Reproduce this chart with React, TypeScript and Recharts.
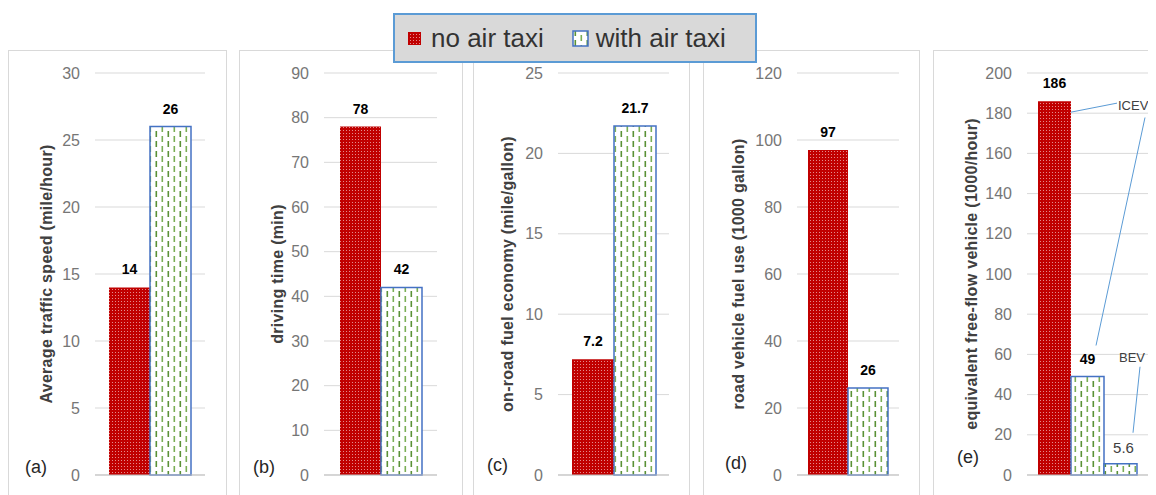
import React from "react";
import { BarChart, Bar, XAxis, YAxis, CartesianGrid, LabelList, Label } from "recharts";

// series names (legend)
const seriesNames = ["no air taxi", "with air taxi"];

// values
const speedValues = [14, 26];
const drivingTimeValues = [78, 42];
const fuelEconomyValues = [7.2, 21.7];
const fuelUseValues = [97, 26];
const freeFlowValues = [186, 49, 5.6]; // no air taxi, with air taxi (ICEV), with air taxi (BEV)
const freeFlowTags = ["ICEV", "BEV"];

const speedTicks = [0, 5, 10, 15, 20, 25, 30];
const timeTicks = [0, 10, 20, 30, 40, 50, 60, 70, 80, 90];
const economyTicks = [0, 5, 10, 15, 20, 25];
const fuelUseTicks = [0, 20, 40, 60, 80, 100, 120];
const freeFlowTicks = [0, 20, 40, 60, 80, 100, 120, 140, 160, 180, 200];

const axisTitles = [
  "Average traffic speed (mile/hour)",
  "driving time (min)",
  "on-road fuel economy (mile/gallon)",
  "road vehicle fuel use (1000 gallon)",
  "equivalent free-flow vehicle (1000/hour)",
];
const panelTags = ["(a)", "(b)", "(c)", "(d)", "(e)"];

const RED = "#c00000";
const BLUE = "#4472c4";
const GRID = "#d9d9d9";
const FONT = "'Liberation Sans', Arial, sans-serif";

// page-pixel layout of each panel
const layout = [
  { boxLeft: 8, boxRight: 227, plotLeft: 95, plotRight: 205, barSize: 41, titleX: 46, tagX: 25, tagY: 467 },
  { boxLeft: 239, boxRight: 463, plotLeft: 324, plotRight: 437, barSize: 41, titleX: 277, tagX: 253, tagY: 467 },
  { boxLeft: 473, boxRight: 690, plotLeft: 558, plotRight: 669, barSize: 42, titleX: 507, tagX: 487, tagY: 465 },
  { boxLeft: 703, boxRight: 920, plotLeft: 797, plotRight: 899, barSize: 40, titleX: 738, tagX: 725, tagY: 463 },
  { boxLeft: 933, boxRight: 1170, plotLeft: 1027, plotRight: 1148, barSize: 33, titleX: 971, tagX: 957, tagY: 457 },
];

const pairRow = (v: number[]) => [{ name: "", noTaxi: v[0], withTaxi: v[1] }];

const panels = [
  { data: pairRow(speedValues), ticks: speedTicks, keys: ["noTaxi", "withTaxi"] },
  { data: pairRow(drivingTimeValues), ticks: timeTicks, keys: ["noTaxi", "withTaxi"] },
  { data: pairRow(fuelEconomyValues), ticks: economyTicks, keys: ["noTaxi", "withTaxi"] },
  { data: pairRow(fuelUseValues), ticks: fuelUseTicks, keys: ["noTaxi", "withTaxi"] },
  {
    data: [{ name: "", noTaxi: freeFlowValues[0], icev: freeFlowValues[1], bev: freeFlowValues[2] }],
    ticks: freeFlowTicks,
    keys: ["noTaxi", "icev", "bev"],
  },
];

const ValueLabel = (props: any) => {
  const x = Number(props.x), y = Number(props.y), w = Number(props.width);
  return (
    <text x={x + w / 2} y={y - 13} textAnchor="middle" fontSize={14} fontWeight="bold" fill="#000">
      {props.value}
    </text>
  );
};

// panel (e) labels with leader lines
const FlowRedLabel = (props: any) => {
  const x = Number(props.x), y = Number(props.y), w = Number(props.width);
  return (
    <g>
      <ValueLabel {...props} />
      <line x1={x + w} y1={y + 11} x2={x + w + 46} y2={y + 2} stroke="#5b9bd5" strokeWidth={1} />
    </g>
  );
};

const FlowIcevLabel = (props: any) => {
  const x = Number(props.x), y = Number(props.y), w = Number(props.width);
  return (
    <g>
      <ValueLabel {...props} />
      <text x={x + w + 14} y={y - 267} fontSize={13} fill="#404040">{freeFlowTags[0]}</text>
      <line x1={x + 74} y1={y - 259} x2={x + 25} y2={y - 31} stroke="#5b9bd5" strokeWidth={1} />
    </g>
  );
};

const FlowBevLabel = (props: any) => {
  const x = Number(props.x), y = Number(props.y);
  return (
    <g>
      <text x={x + 19.5} y={y - 11} textAnchor="middle" fontSize={15} fill="#404040">{props.value}</text>
      <text x={x + 15} y={y - 102} fontSize={13} fill="#404040">{freeFlowTags[1]}</text>
      <line x1={x + 36} y1={y - 97} x2={x + 29} y2={y - 31} stroke="#5b9bd5" strokeWidth={1} />
    </g>
  );
};

const titleContent = (text: string, cx: number) => (props: any) => {
  const vb = props.viewBox || { y: 0, height: 0 };
  const cy = vb.y + vb.height / 2;
  return (
    <text
      x={cx}
      y={cy}
      transform={`rotate(-90, ${cx}, ${cy})`}
      textAnchor="middle"
      dominantBaseline="central"
      fontSize={16}
      fontWeight="bold"
      letterSpacing={0.3}
      fill="#404040"
    >
      {text}
    </text>
  );
};

const labelFor = (panelIdx: number, key: string) => {
  if (panelIdx === 4) {
    if (key === "noTaxi") return FlowRedLabel;
    if (key === "icev") return FlowIcevLabel;
    return FlowBevLabel;
  }
  return ValueLabel;
};

const Panel = ({ idx }: { idx: number }) => {
  const L = layout[idx];
  const P = panels[idx];
  const chartLeft = L.boxLeft + 1;
  const width = L.plotRight + 10 - chartLeft;
  const ticks = P.ticks;
  return (
    <>
      <div
        style={{
          position: "absolute",
          left: L.boxLeft - 8,
          top: 42,
          width: L.boxRight - L.boxLeft,
          height: 470,
          border: `1px solid ${GRID}`,
          boxSizing: "border-box",
        }}
      />
      <div style={{ position: "absolute", left: chartLeft - 8, top: 43 }}>
        <BarChart
          width={width}
          height={440}
          data={P.data}
          margin={{ top: 22, right: 10, bottom: 15, left: 0 }}
          barGap={0}
        >
          <CartesianGrid vertical={false} stroke={GRID} />
          <XAxis dataKey="name" tick={false} tickLine={false} height={1} axisLine={{ stroke: "#bfbfbf" }} />
          <YAxis
            width={L.plotLeft - chartLeft}
            domain={[0, ticks[ticks.length - 1]]}
            ticks={ticks}
            interval={0}
            axisLine={false}
            tickLine={false}
            tickSize={6}
            tickMargin={9}
            tick={{ fontSize: 16, fill: "#767676" }}
          >
            <Label content={titleContent(axisTitles[idx], L.titleX - chartLeft)} />
          </YAxis>
          {P.keys.map((k) => (
            <Bar
              key={k}
              dataKey={k}
              barSize={L.barSize}
              fill={k === "noTaxi" ? "url(#redDots)" : "url(#greenDash)"}
              stroke={k === "noTaxi" ? "none" : BLUE}
              strokeWidth={1.5}
              isAnimationActive={false}
            >
              <LabelList dataKey={k} content={labelFor(idx, k)} />
            </Bar>
          ))}
        </BarChart>
      </div>
      <span
        style={{
          position: "absolute",
          left: L.tagX - 8,
          top: L.tagY - 8 - 11,
          lineHeight: "22px",
          fontSize: 18,
          color: "#262626",
        }}
      >
        {panelTags[idx]}
      </span>
    </>
  );
};

const Swatch = ({ fill, stroke }: { fill: string; stroke?: string }) => (
  <svg width={17} height={17} style={{ display: "block" }}>
    <rect
      x={stroke ? 1 : 2}
      y={stroke ? 1 : 2}
      width={stroke ? 15 : 13}
      height={stroke ? 15 : 13}
      fill={fill}
      stroke={stroke || "none"}
      strokeWidth={1.5}
    />
  </svg>
);

const Legend = () => (
  <div
    style={{
      position: "absolute",
      left: 393 - 8,
      top: 13 - 8,
      width: 364,
      height: 50,
      background: "#d9d9d9",
      border: "2px solid #5b9bd5",
      boxSizing: "border-box",
      display: "flex",
      alignItems: "center",
      paddingLeft: 11,
      fontSize: 26,
      color: "#333",
      zIndex: 5,
    }}
  >
    <Swatch fill="url(#redDots)" />
    <span style={{ marginLeft: 8 }}>{seriesNames[0]}</span>
    <span style={{ marginLeft: 28, display: "flex" }}>
      <Swatch fill="url(#greenDash)" stroke={BLUE} />
    </span>
    <span style={{ marginLeft: 7 }}>{seriesNames[1]}</span>
  </div>
);

export default function App() {
  return (
    <div
      style={{
        position: "relative",
        width: 1148,
        height: 487,
        overflow: "hidden",
        fontFamily: FONT,
        background: "#fff",
      }}
    >
      <style>{"html,body{overflow:hidden}"}</style>
      <svg width={0} height={0} style={{ position: "absolute" }}>
        <defs>
          <pattern id="redDots" width={3} height={3} patternUnits="userSpaceOnUse">
            <rect width={3} height={3} fill={RED} />
            <rect x={1} y={1} width={1} height={1} fill="#fff" opacity={0.55} />
          </pattern>
          <pattern id="greenDash" width={12} height={10} patternUnits="userSpaceOnUse">
            <rect width={12} height={10} fill="#fff" />
            <rect x={2.5} y={0} width={1.6} height={6} fill="#5a9136" />
            <rect x={8.5} y={5} width={1.6} height={6} fill="#7aae55" />
            <rect x={8.5} y={0} width={1.6} height={1} fill="#7aae55" />
          </pattern>
        </defs>
      </svg>
      {layout.map((_, i) => (
        <Panel key={i} idx={i} />
      ))}
      <Legend />
    </div>
  );
}
